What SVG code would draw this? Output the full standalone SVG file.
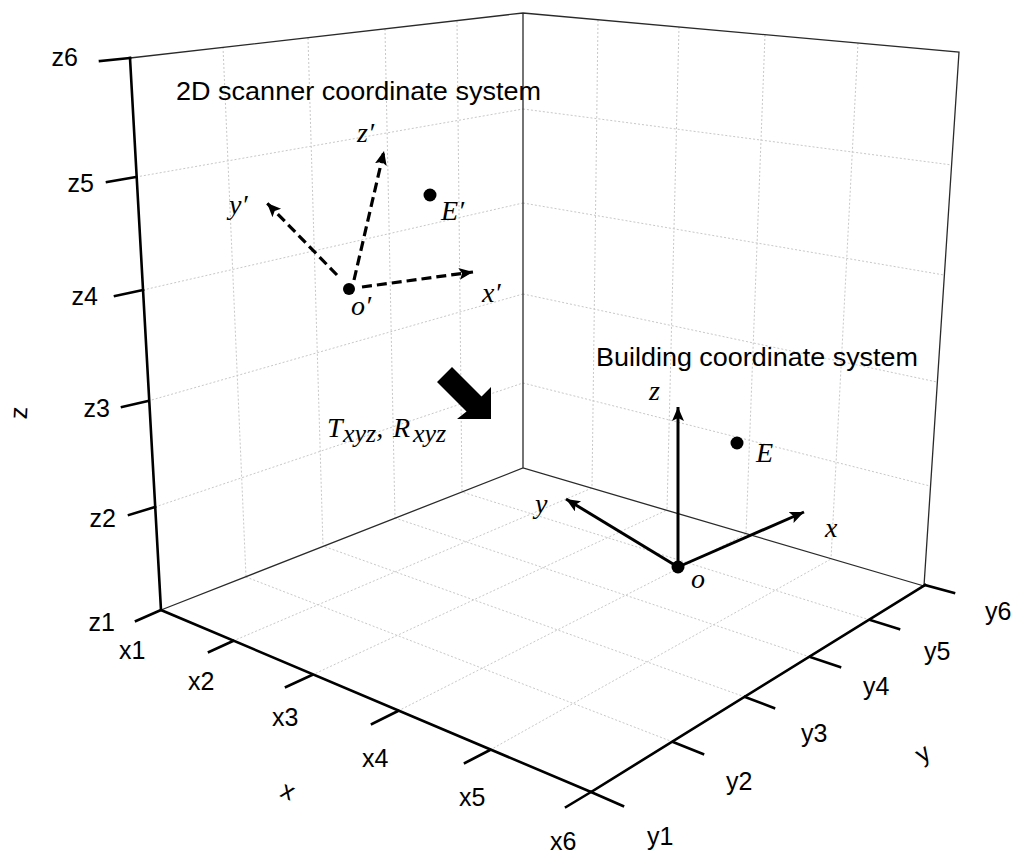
<svg xmlns="http://www.w3.org/2000/svg" width="1024" height="864" viewBox="0 0 1024 864">
<defs>
<style>
.grid{stroke:#c8c8c8;stroke-width:1;stroke-dasharray:2 2;fill:none}
.edge{stroke:#2a2a2a;stroke-width:1.3;fill:none}
.axis{stroke:#000;stroke-width:2.6;fill:none;stroke-linecap:square}
.tl{font-family:"Liberation Sans",Arial,sans-serif;font-size:25px;fill:#000}
.title{font-family:"Liberation Sans",Arial,sans-serif;font-size:26px;fill:#000}
.math{font-family:"Liberation Serif","Times New Roman",serif;font-style:italic;font-size:28px;fill:#000}
.dash{stroke:#000;stroke-width:3.2;stroke-dasharray:10 5;fill:none;marker-end:url(#ah)}
.solid{stroke:#000;stroke-width:3;fill:none;marker-end:url(#ah)}
</style>
<marker id="ah" markerUnits="userSpaceOnUse" markerWidth="16" markerHeight="14" refX="14" refY="6" orient="auto">
<path d="M0,0 L14,6 L0,12 L3,6 Z" fill="#000"/>
</marker>
</defs>
<rect width="1024" height="864" fill="#fff"/>
<g id="grid">
<path class="grid" d="M155,507L523,383M148,401L523,294M143,290L523,203M136,177L523,109M223,47L246,577M308,38L323,546M385,29L395,518M457,21L462,492"/>
<path class="grid" d="M523,383L930,486M523,294L937,382M523,203L944,275M523,109L952,165M598,20L592,488M679,27L667,510M765,35L746,534M858,43L831,559"/>
<path class="grid" d="M233,641L592,488M312,675L667,510M398,711L746,534M490,750L831,559M673,742L246,577M745,697L323,546M810,657L395,518M870,620L462,492"/>
</g>
<g id="frame">
<path class="edge" d="M130,58L523,13L959,52L924,586L523,468L161,610M523,13L523,468"/>
</g>
<g id="axes">
<path class="axis" d="M130,58L161,610L591,792L925,585"/>
<path class="axis" d="M100,61L130,58M107,182L136,177M115,296L143,290M122,407L148,401M129,515L155,507M136,621L161,610M209,652L233,641M286,687L312,675M372,724L398,711M465,763L490,750M566,807L591,792M591,792L623,806M673,742L703,754M745,697L774,708M810,657L840,667M870,620L899,629M925,585L954,593"/>
<g class="tl">
<text x="78" y="66" text-anchor="end">z6</text>
<text x="94" y="192" text-anchor="end">z5</text>
<text x="98" y="305" text-anchor="end">z4</text>
<text x="110" y="417" text-anchor="end">z3</text>
<text x="116" y="527" text-anchor="end">z2</text>
<text x="115" y="631" text-anchor="end">z1</text>
<text x="119" y="659">x1</text>
<text x="188" y="690">x2</text>
<text x="272" y="726">x3</text>
<text x="362" y="767">x4</text>
<text x="459" y="806">x5</text>
<text x="550" y="850">x6</text>
<text x="647" y="845">y1</text>
<text x="726" y="790">y2</text>
<text x="801" y="742">y3</text>
<text x="863" y="695">y4</text>
<text x="924" y="660">y5</text>
<text x="985" y="620">y6</text>
<text transform="translate(21,413) rotate(-87)" x="0" y="6" text-anchor="middle">z</text>
<text transform="translate(287,793) rotate(23)" x="0" y="6" text-anchor="middle">x</text>
<text transform="translate(925,757) rotate(-32)" x="0" y="4" text-anchor="middle">y</text>
</g>
</g>
<g id="connectors">
<path class="dash" d="M354,280L384,151"/>
<path class="dash" d="M337,275L267,203"/>
<path class="dash" d="M362,287L473,272"/>
<path class="solid" d="M678,567L678,407"/>
<path class="solid" d="M678,567L566,499"/>
<path class="solid" d="M678,567L804,512"/>
</g>
<g id="scanner-system">
<text class="title" x="176" y="100" textLength="365" lengthAdjust="spacingAndGlyphs">2D scanner coordinate system</text>
<circle cx="349" cy="289" r="6"/>
<text class="math" x="351" y="315">o′</text>
<text class="math" x="357" y="142">z′</text>
<text class="math" x="229" y="214">y′</text>
<text class="math" x="482" y="302">x′</text>
</g>
<g id="point-E-prime">
<circle cx="430" cy="195" r="6.5"/>
<text class="math" x="441" y="220">E′</text>
</g>
<g id="transform">
<polygon points="452,367 481.5,396.5 491,387 491,419 457,419 466.5,411.5 437,382" fill="#000"/>
<text class="math" y="437" font-size="31"><tspan x="327">T</tspan><tspan x="343" dy="5" font-size="26">xyz</tspan><tspan dy="-5">,</tspan><tspan x="393">R</tspan><tspan x="413" dy="5" font-size="26">xyz</tspan></text>
</g>
<g id="building-system">
<text class="title" x="596" y="366" textLength="322" lengthAdjust="spacingAndGlyphs">Building coordinate system</text>
<circle cx="678" cy="567" r="6.5"/>
<text class="math" x="691" y="588">o</text>
<text class="math" x="649" y="400">z</text>
<text class="math" x="535" y="513">y</text>
<text class="math" x="825" y="537">x</text>
</g>
<g id="point-E">
<circle cx="737" cy="443" r="6.5"/>
<text class="math" x="756" y="462">E</text>
</g>
</svg>
